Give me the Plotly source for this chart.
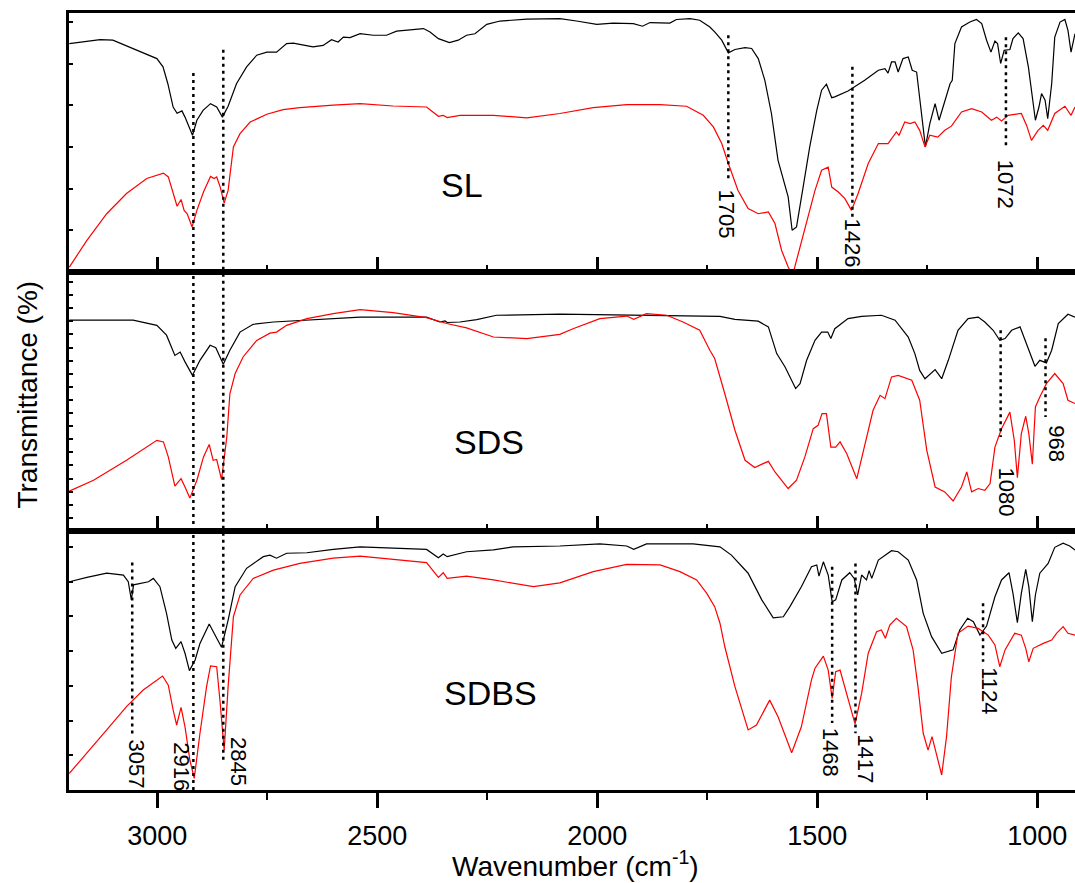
import plotly.graph_objects as go
from plotly.subplots import make_subplots

# FTIR spectra: wavenumber (cm-1) and transmittance (arbitrary %, per panel)
SL_BLACK_WN = [3200, 3130, 3101, 3055, 3001, 2987, 2976, 2964, 2955, 2944, 2937, 2920, 2910, 2896, 2879, 2865,
               2852, 2839, 2820, 2797, 2774, 2751, 2729, 2706, 2691, 2664, 2646, 2623, 2604, 2589, 2577, 2562,
               2539, 2509, 2479, 2456, 2426, 2395, 2380, 2361, 2336, 2316, 2297, 2278, 2251, 2221, 2160, 2085,
               2047, 2001, 1964, 1918, 1897, 1880, 1835, 1820, 1789, 1767, 1744, 1733, 1717, 1702, 1687, 1664,
               1649, 1634, 1619, 1604, 1589, 1577, 1566, 1557, 1547, 1532, 1517, 1501, 1490, 1479, 1467, 1460,
               1430, 1392, 1361, 1346, 1339, 1331, 1323, 1316, 1305, 1293, 1284, 1274, 1267, 1259, 1254, 1244,
               1232, 1223, 1210, 1198, 1193, 1187, 1172, 1153, 1138, 1126, 1115, 1105, 1096, 1090, 1083, 1075,
               1062, 1055, 1043, 1032, 1020, 1011, 1004, 996, 990, 982, 976, 967, 960, 948, 937, 930, 923, 914]
SL_BLACK_T = [88.2, 89.7, 89.5, 86.3, 82.4, 79.2, 72.7, 63.7, 61.3, 62.2, 59.8, 52.8, 58.6, 62.4, 65.0, 63.7,
              59.8, 64.0, 72.7, 79.2, 83.7, 84.9, 84.9, 88.2, 88.4, 87.5, 86.9, 87.5, 89.7, 88.8, 90.7, 90.5,
              92.0, 91.4, 91.4, 93.0, 93.6, 94.0, 92.7, 90.1, 88.6, 89.5, 91.4, 92.0, 95.6, 96.9, 97.6, 97.8,
              96.9, 95.6, 96.1, 95.9, 94.9, 96.3, 96.1, 97.5, 97.8, 97.2, 94.6, 92.7, 89.5, 84.6, 85.9, 86.6,
              86.3, 82.4, 74.0, 61.2, 43.1, 35.4, 29.0, 16.1, 17.4, 32.8, 48.3, 62.4, 70.2, 72.5, 67.3, 67.6,
              69.9, 74.0, 77.9, 78.5, 76.8, 81.1, 81.1, 77.2, 82.4, 83.0, 77.9, 77.2, 66.3, 56.0, 48.3, 57.3,
              65.0, 58.6, 66.3, 72.7, 74.0, 88.2, 94.6, 96.5, 97.5, 95.9, 89.5, 84.9, 89.2, 88.2, 80.5, 85.6,
              85.9, 90.1, 92.3, 90.1, 79.2, 66.3, 58.6, 63.7, 68.9, 66.3, 59.2, 72.7, 90.7, 96.5, 97.5, 93.3, 84.9, 92.0]

SL_RED_WN = [3200, 3160, 3115, 3070, 3024, 2986, 2975, 2964, 2955, 2946, 2939, 2932, 2921, 2910, 2895, 2879,
             2871, 2865, 2857, 2848, 2839, 2827, 2812, 2789, 2751, 2714, 2676, 2600, 2539, 2464, 2388, 2361,
             2350, 2341, 2312, 2236, 2160, 2085, 2009, 1933, 1857, 1797, 1759, 1736, 1717, 1702, 1680, 1657,
             1634, 1611, 1596, 1581, 1566, 1556, 1547, 1528, 1505, 1490, 1475, 1467, 1452, 1437, 1422, 1407,
             1384, 1361, 1339, 1320, 1314, 1301, 1289, 1278, 1267, 1255, 1244, 1226, 1210, 1195, 1172, 1149,
             1126, 1104, 1092, 1081, 1066, 1036, 1024, 1013, 998, 986, 976, 960, 937, 923, 914]
SL_RED_T = [1.9, 12.2, 22.5, 30.3, 36.1, 38.2, 36.7, 30.3, 25.4, 28.0, 23.8, 22.5, 17.4, 23.8, 30.9, 36.9,
            36.1, 36.7, 32.8, 26.6, 31.5, 48.3, 53.4, 57.9, 60.9, 62.7, 63.5, 64.4, 65.0, 64.1, 63.7, 60.1,
            60.5, 59.6, 60.5, 60.5, 59.5, 61.2, 63.5, 64.6, 64.6, 64.0, 60.5, 56.0, 49.6, 41.9, 31.5, 24.5,
            22.5, 23.2, 18.7, 8.4, 1.9, -1.3, 4.5, 17.4, 31.5, 39.3, 40.5, 32.8, 30.9, 28.3, 23.8, 30.3,
            41.9, 49.6, 49.6, 54.1, 52.8, 57.9, 57.3, 57.9, 54.7, 48.3, 52.8, 52.1, 54.7, 56.3, 61.8, 63.1,
            61.8, 58.6, 59.8, 58.3, 60.5, 61.2, 56.6, 50.8, 54.7, 56.6, 54.7, 61.2, 64.0, 60.5, 63.7]

SDS_BLACK_WN = [3200, 3055, 3001, 2979, 2960, 2948, 2937, 2920, 2903, 2880, 2867, 2850, 2835, 2812, 2782, 2736,
                2539, 2388, 2358, 2346, 2341, 2312, 2274, 2229, 2085, 1721, 1687, 1634, 1611, 1592, 1573, 1558,
                1549, 1539, 1524, 1505, 1490, 1476, 1469, 1460, 1430, 1399, 1354, 1323, 1293, 1278, 1267, 1255,
                1232, 1217, 1202, 1180, 1157, 1134, 1119, 1100, 1085, 1073, 1058, 1039, 1024, 1005, 994, 979,
                967, 952, 930, 914]
SDS_BLACK_T = [81.4, 81.4, 79.4, 75.6, 67.8, 69.1, 65.3, 60.1, 65.9, 71.7, 70.8, 64.4, 69.8, 76.8, 79.8, 80.7,
               82.6, 82.6, 80.7, 81.1, 80.5, 80.7, 81.6, 83.3, 83.7, 82.9, 81.7, 81.0, 78.8, 68.5, 63.3, 58.2,
               55.0, 56.9, 65.9, 73.6, 76.8, 76.8, 74.3, 78.1, 82.0, 82.9, 83.3, 81.4, 74.9, 68.5, 62.0, 58.8,
               62.3, 58.8, 65.9, 77.5, 82.0, 82.6, 80.7, 77.5, 73.6, 74.3, 77.5, 78.8, 72.4, 63.6, 65.9, 64.9,
               69.8, 80.1, 83.7, 82.6]

SDS_RED_WN = [3200, 3145, 3070, 3024, 3001, 2986, 2975, 2960, 2946, 2937, 2926, 2910, 2895, 2882, 2873, 2865,
              2854, 2842, 2835, 2823, 2805, 2774, 2744, 2729, 2706, 2660, 2600, 2539, 2464, 2388, 2354, 2342,
              2297, 2236, 2160, 2085, 2055, 1994, 1933, 1917, 1888, 1842, 1805, 1767, 1744, 1733, 1710, 1687,
              1664, 1642, 1623, 1611, 1596, 1566, 1547, 1528, 1509, 1498, 1489, 1479, 1469, 1458, 1448, 1433,
              1410, 1395, 1384, 1373, 1357, 1346, 1331, 1316, 1285, 1267, 1251, 1232, 1210, 1191, 1172, 1160,
              1149, 1134, 1119, 1107, 1096, 1081, 1062, 1052, 1045, 1036, 1026, 1019, 1011, 1004, 994, 979,
              960, 941, 930, 914]
SDS_RED_T = [15.4, 19.6, 27.3, 32.4, 35.0, 34.4, 28.6, 17.3, 20.2, 17.0, 12.7, 19.6, 28.6, 33.4, 27.3, 27.6,
             19.8, 36.3, 53.0, 60.8, 67.2, 73.6, 76.4, 76.8, 79.4, 82.0, 83.9, 85.5, 84.3, 82.4, 80.7, 80.1,
             78.4, 74.9, 74.3, 75.9, 78.1, 82.0, 83.0, 81.7, 83.9, 83.3, 80.7, 77.5, 69.8, 66.6, 53.0, 38.9,
             27.3, 24.5, 26.0, 26.9, 22.8, 16.4, 19.6, 28.6, 39.5, 40.8, 45.3, 45.3, 32.4, 32.4, 34.4, 29.9,
             20.2, 31.2, 39.5, 46.6, 52.4, 51.1, 59.5, 60.1, 58.2, 50.5, 31.2, 17.0, 15.1, 11.6, 17.0, 22.8,
             15.1, 16.4, 15.7, 18.3, 32.4, 39.5, 45.9, 35.0, 20.6, 37.6, 44.3, 37.6, 25.8, 47.9, 51.7, 56.9,
             60.8, 56.9, 50.5, 49.2]

SDBS_BLACK_WN = [3200, 3160, 3115, 3077, 3066, 3059, 3054, 3045, 3032, 3020, 3009, 2994, 2979, 2967, 2958, 2946,
                 2937, 2927, 2914, 2903, 2882, 2869, 2854, 2839, 2823, 2797, 2759, 2744, 2729, 2706, 2660, 2600,
                 2539, 2388, 2361, 2350, 2341, 2297, 2236, 2191, 2085, 1994, 1933, 1917, 1888, 1782, 1721, 1695,
                 1657, 1626, 1600, 1577, 1562, 1536, 1513, 1501, 1496, 1486, 1475, 1466, 1458, 1444, 1426, 1416,
                 1408, 1399, 1388, 1382, 1376, 1361, 1331, 1316, 1293, 1274, 1259, 1240, 1217, 1191, 1176, 1158,
                 1145, 1130, 1115, 1096, 1081, 1064, 1055, 1045, 1036, 1026, 1019, 1011, 1004, 994, 975, 960,
                 941, 926, 914]
SDBS_BLACK_T = [80.4, 82.1, 83.7, 83.0, 80.4, 73.4, 79.2, 79.5, 80.0, 80.4, 81.7, 78.5, 68.2, 57.9, 54.7, 57.3,
                52.8, 46.1, 50.2, 56.6, 64.1, 59.8, 55.1, 65.6, 78.5, 85.6, 90.1, 90.7, 89.5, 91.4, 91.6, 92.9,
                93.9, 92.9, 89.7, 91.1, 90.1, 92.0, 92.7, 93.9, 94.2, 95.0, 94.2, 92.9, 95.0, 95.0, 93.9, 90.7,
                83.7, 73.4, 66.5, 66.9, 70.8, 78.5, 86.2, 86.9, 82.6, 88.1, 83.0, 72.7, 73.4, 81.1, 83.9, 81.7,
                75.3, 83.0, 81.1, 84.7, 81.7, 88.8, 92.4, 92.0, 88.8, 81.1, 68.2, 59.2, 52.8, 54.1, 61.8, 66.3,
                65.0, 59.8, 63.3, 74.6, 81.1, 83.9, 75.9, 64.6, 75.9, 85.2, 78.5, 65.0, 75.3, 83.7, 87.5, 93.7,
                95.3, 94.2, 92.7]

SDBS_RED_WN = [3200, 3160, 3115, 3070, 3032, 2988, 2975, 2964, 2956, 2946, 2937, 2926, 2916, 2903, 2888, 2879,
               2865, 2857, 2848, 2839, 2827, 2812, 2782, 2736, 2676, 2600, 2539, 2388, 2361, 2350, 2341, 2297,
               2236, 2145, 2085, 2009, 1933, 1857, 1812, 1774, 1751, 1733, 1721, 1710, 1687, 1657, 1638, 1608,
               1589, 1558, 1536, 1513, 1505, 1486, 1475, 1466, 1458, 1448, 1433, 1414, 1399, 1384, 1365, 1354,
               1345, 1335, 1320, 1297, 1282, 1271, 1259, 1248, 1239, 1229, 1217, 1206, 1195, 1180, 1157, 1134,
               1111, 1096, 1085, 1073, 1051, 1036, 1026, 1019, 1009, 986, 967, 956, 941, 930, 914]
SDBS_RED_T = [6.4, 14.2, 23.2, 32.2, 38.6, 44.0, 40.5, 30.9, 25.1, 31.9, 24.4, 11.6, 4.5, 21.9, 39.9, 47.9,
              47.6, 33.5, 15.4, 39.9, 66.9, 75.3, 81.7, 84.9, 87.5, 89.5, 90.3, 87.8, 82.1, 83.9, 81.7, 82.6,
              81.1, 78.5, 80.0, 84.3, 87.1, 86.9, 84.3, 81.1, 75.9, 70.8, 64.4, 55.3, 39.9, 23.2, 25.1, 34.7,
              28.3, 14.4, 24.4, 42.5, 47.0, 51.7, 46.3, 35.4, 45.7, 46.3, 37.3, 25.5, 37.3, 52.8, 61.1, 61.8,
              58.6, 63.7, 66.3, 63.1, 54.1, 39.9, 21.9, 15.4, 20.6, 14.2, 5.8, 20.6, 43.7, 60.5, 63.3, 62.4,
              59.8, 56.0, 47.6, 54.1, 60.5, 59.8, 54.7, 49.5, 54.7, 56.6, 57.9, 60.5, 63.1, 60.5, 59.8]

SAMPLES = ["SL", "SDS", "SDBS"]
SAMPLE_LABEL_POS = [(2307, 33.5), (2246, 34.4), (2242, 37.3)]
Y_TICK_STEP = [16.1, 5.06, 13.4]

# peak markers: (row, wavenumber of dotted line, y from, y to)
PEAK_LINES = [(1, 1702, 91.4, 36.2), (1, 1420, 79.2, 21.2), (1, 1071, 90.6, 47.8),
              (2, 1083, 77.5, 36.3), (2, 981, 74.4, 44.0),
              (3, 3057, 87.8, 20.6), (3, 1466, 86.2, 25.9), (3, 1413, 87.5, 21.9), (3, 1123, 72.1, 49.5)]
# lines running through all three panels: (wavenumber, paper y from, paper y to)
LONG_LINES = [(2918, 0.0, 0.925), (2850, 0.039, 0.953)]
# peak labels: (row, text, wavenumber, y)
PEAK_LABELS = [(1, "1705", 1707, 22.5), (1, "1426", 1419, 11.1), (1, "1072", 1072, 33.9),
               (2, "1080", 1070, 15.1), (2, "968", 958, 33.6),
               (3, "3057", 3047, 10.0), (3, "2916", 2945, 9.0), (3, "2845", 2817, 10.9),
               (3, "1468", 1471, 14.4), (3, "1417", 1392, 12.0), (3, "1124", 1107, 38.5)]

FONT = "Liberation Sans, Arial, sans-serif"
DOT = "3px,4px"

series = [(SL_BLACK_WN, SL_BLACK_T, SL_RED_WN, SL_RED_T),
          (SDS_BLACK_WN, SDS_BLACK_T, SDS_RED_WN, SDS_RED_T),
          (SDBS_BLACK_WN, SDBS_BLACK_T, SDBS_RED_WN, SDBS_RED_T)]

fig = make_subplots(rows=3, cols=1, shared_xaxes=True, vertical_spacing=0)

for i, (kwn, kt, rwn, rt) in enumerate(series):
    row = i + 1
    fig.add_trace(go.Scatter(x=kwn, y=kt, mode="lines", line=dict(color="black", width=1.2),
                             showlegend=False, hoverinfo="skip"), row=row, col=1)
    fig.add_trace(go.Scatter(x=rwn, y=rt, mode="lines", line=dict(color="#ff0000", width=1.2),
                             showlegend=False, hoverinfo="skip"), row=row, col=1)
    lx, ly = SAMPLE_LABEL_POS[i]
    fig.add_annotation(x=lx, y=ly, text=SAMPLES[i], showarrow=False,
                       font=dict(family=FONT, size=34, color="black"), row=row, col=1)
    last = row == 3
    fig.update_xaxes(range=[3200.7, 914], showline=True, mirror=True, linewidth=2.5, linecolor="black",
                     ticks="outside" if last else "inside", ticklen=15, tickwidth=2.5, tickcolor="black",
                     tick0=0, dtick=500,
                     minor=dict(ticks="outside" if last else "inside", dtick=250, ticklen=7, tickwidth=2,
                                tickcolor="black", showgrid=False),
                     showticklabels=last, showgrid=False, zeroline=False,
                     tickfont=dict(family=FONT, size=27, color="black"), row=row, col=1)
    fig.update_yaxes(range=[0, 100], showline=True, mirror=False, linewidth=2.5, linecolor="black",
                     ticks="inside", ticklen=4, tickwidth=1.5, tickcolor="black",
                     tick0=0, dtick=Y_TICK_STEP[i], showticklabels=False, showgrid=False, zeroline=False,
                     row=row, col=1)

fig.update_xaxes(ticklabelstandoff=5, row=3, col=1)

for row, wn, y0, y1 in PEAK_LINES:
    fig.add_shape(type="line", x0=wn, x1=wn, y0=y0, y1=y1,
                  line=dict(color="black", width=2.5, dash=DOT), row=row, col=1)

for wn, y0, y1 in LONG_LINES:
    fig.add_shape(type="line", xref="x", yref="paper", x0=wn, x1=wn, y0=y0, y1=y1,
                  line=dict(color="black", width=2.5, dash=DOT))

for row, txt, wn, y in PEAK_LABELS:
    fig.add_annotation(x=wn, y=y, text=txt, textangle=90, showarrow=False,
                       font=dict(family=FONT, size=22, color="black"), row=row, col=1)

# axis titles as free text so they sit where the original has them
fig.add_annotation(xref="paper", yref="paper", x=0.503, y=-0.0952, text="Wavenumber (cm<sup>-1</sup>)",
                   showarrow=False, xanchor="center", yanchor="middle",
                   font=dict(family=FONT, size=28, color="black"))
fig.add_annotation(xref="paper", yref="paper", x=-0.0417, y=0.509, text="Transmittance (%)", textangle=-90,
                   showarrow=False, xanchor="center", yanchor="middle",
                   font=dict(family=FONT, size=28, color="black"))

fig.update_layout(width=1075, height=883, margin=dict(l=69, r=0, t=13, b=93),
                  plot_bgcolor="white", paper_bgcolor="white", showlegend=False,
                  font=dict(family=FONT, color="black"))

fig.write_html("out.html", config={"displayModeBar": False},
               post_script="document.body.style.margin='0px';document.body.style.overflow='hidden';")
